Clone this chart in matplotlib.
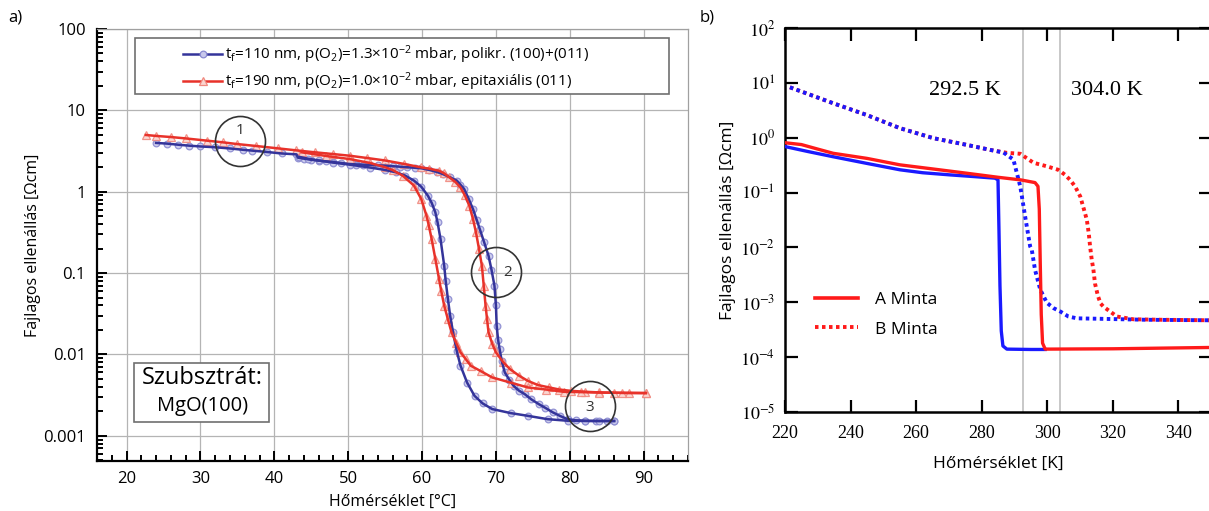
import matplotlib
matplotlib.use("Agg")
import matplotlib.pyplot as plt
from matplotlib.lines import Line2D
from matplotlib.patches import Rectangle
from matplotlib.ticker import FixedLocator, NullFormatter

plt.rcParams['font.family'] = ['Open Sans', 'DejaVu Sans']
plt.rcParams['mathtext.fontset'] = 'custom'
plt.rcParams['mathtext.rm'] = 'Open Sans'
plt.rcParams['mathtext.it'] = 'Open Sans:italic'

# ---------------- panel a) data (T in °C, resistivity in Ohm cm) ----------------
blue_heat_T = [24, 25.5, 27, 28.5, 30, 32, 34, 35.7, 37, 39, 41, 43.0,
               43.2, 44, 45, 46, 47, 48, 49, 50.2, 51, 52, 53, 54, 55, 56, 57, 58, 59, 59.9,
               61, 62, 62.8, 63.8, 64.7, 65.2, 65.7, 66.3, 66.9, 67.4, 67.8, 68.4, 69.0,
               69.4, 69.8, 70.0, 70.1, 70.3, 70.5, 70.8, 71.2, 71.8, 72.4, 73.1, 73.9,
               74.8, 75.8, 76.7, 77.7, 78.7, 79.7, 80.8, 82.1, 83.5, 85, 86]
blue_heat_R = [3.98, 3.90, 3.78, 3.68, 3.60, 3.52, 3.40, 3.28, 3.20, 3.08, 2.95, 2.88,
               2.62, 2.55, 2.47, 2.41, 2.36, 2.31, 2.26, 2.19, 2.17, 2.15, 2.13, 2.11, 2.09,
               2.06, 2.03, 2.00, 1.97, 1.94, 1.85, 1.75, 1.65, 1.50, 1.37, 1.22, 1.08, 0.82,
               0.61, 0.45, 0.35, 0.24, 0.163, 0.11, 0.070, 0.040, 0.0225, 0.015, 0.0116,
               0.0082, 0.0060, 0.0049, 0.0041, 0.0036, 0.00325, 0.0028, 0.00245, 0.0022,
               0.00194, 0.00175, 0.0016, 0.00155, 0.00153, 0.00152, 0.00152, 0.00152]
blue_cool_T = [86, 84, 82, 79.7, 77, 74.3, 72, 69.5, 68.2, 67.1, 66.1, 65.2, 64.7, 64.2,
               63.8, 63.5, 63.2, 63.0, 62.5, 62.1, 61.8, 61.3, 60.8, 59.9, 58.9, 57.7, 56.5,
               55, 53, 51, 50.2, 48, 46, 44.5, 43.4]
blue_cool_R = [0.00152, 0.00152, 0.00152, 0.00153, 0.0016, 0.00176, 0.0019, 0.00213, 0.0025,
               0.0031, 0.0045, 0.0073, 0.011, 0.0186, 0.030, 0.048, 0.080, 0.123, 0.262, 0.42,
               0.557, 0.73, 0.89, 1.15, 1.37, 1.58, 1.73, 1.85, 1.98, 2.10, 2.15, 2.28, 2.42,
               2.55, 2.68]
red_heat_T = [22.6, 24, 26, 28, 30.9, 33, 35, 37.5, 40.5, 43, 45.5, 48, 50.2, 52.5, 55, 57.5,
              59.9, 61, 62.3, 63.0, 63.7, 64.5, 65.2, 65.8, 66.4, 66.9, 67.3, 67.7, 68.1,
              68.35, 68.6, 68.8, 69.0, 69.5, 70.0, 71.0, 71.9, 73.1, 74.3, 75.7, 77.2, 78.6,
              80.1, 82, 84, 86, 88, 90.3]
red_heat_R = [4.98, 4.85, 4.70, 4.52, 4.24, 4.05, 3.85, 3.65, 3.41, 3.22, 3.05, 2.90, 2.77,
              2.60, 2.42, 2.20, 1.99, 1.92, 1.81, 1.68, 1.50, 1.32, 1.13, 0.90, 0.673, 0.46,
              0.316, 0.20, 0.123, 0.070, 0.0397, 0.027, 0.0187, 0.0135, 0.0106, 0.0080,
              0.0066, 0.0055, 0.00474, 0.0042, 0.00393, 0.0037, 0.00357, 0.00348, 0.00341,
              0.00338, 0.00336, 0.00335]
red_cool_T = [90.3, 87, 84, 81.5, 79.2, 76.8, 74.3, 72, 69.5, 68, 66.6, 65.9, 65.2, 64.6,
              64.0, 63.5, 63.0, 62.6, 62.3, 61.8, 61.3, 60.9, 60.6, 59.9, 58.9, 57.4, 56,
              55, 53, 50.2, 47, 43.7]
red_cool_R = [0.00335, 0.00337, 0.0034, 0.00344, 0.00347, 0.0037, 0.00393, 0.0045, 0.00521,
              0.0062, 0.00726, 0.0088, 0.0106, 0.0140, 0.0186, 0.027, 0.0397, 0.060, 0.0844,
              0.149, 0.262, 0.39, 0.507, 0.81, 1.19, 1.57, 1.85, 2.00, 2.25, 2.52, 2.75, 3.05]

circle_T = [35.4, 70.0, 82.7]
circle_R = [4.24, 0.102, 0.0023]
circle_labels = ["1", "2", "3"]
circle_label_T = [35.4, 71.6, 82.7]
circle_label_R = [5.6, 0.102, 0.00224]

legend_a = [r"t$_\mathrm{f}$=110 nm, p(O$_2$)=1.3$\times$10$^{-2}$ mbar, polikr. (100)+(011)",
            r"t$_\mathrm{f}$=190 nm, p(O$_2$)=1.0$\times$10$^{-2}$ mbar, epitaxiális (011)"]
yticks_a = [0.001, 0.01, 0.1, 1, 10, 100]
yticklabels_a = ["0.001", "0.01", "0.1", "1", "10", "100"]
xticks_a = [20, 30, 40, 50, 60, 70, 80, 90]

# ---------------- panel b) data (T in K) ----------------
A_blue_T = [220, 227, 234.7, 245, 255.1, 262, 270.4, 278, 284.1, 285.0, 285.3, 285.6, 286.0,
            286.5, 287.7, 295, 299.4]
A_blue_R = [0.69, 0.56, 0.45, 0.34, 0.26, 0.23, 0.21, 0.195, 0.183, 0.17, 0.02, 0.002, 0.0003,
            0.00016, 0.00014, 0.000138, 0.000138]
A_red_T = [220, 225, 230, 234.7, 245, 255.1, 265, 275.5, 285, 292, 296.3, 297.2, 297.6, 297.9,
           298.2, 298.6, 299.4, 320, 349.5]
A_red_R = [0.81, 0.75, 0.62, 0.52, 0.42, 0.32, 0.27, 0.225, 0.19, 0.17, 0.152, 0.13, 0.05,
           0.005, 0.0006, 0.00018, 0.00014, 0.000142, 0.00015]
B_blue_T = [221.5, 234.7, 244.9, 255.1, 265.3, 275.5, 282.6, 286.7, 289.7, 291.8, 293.3,
            294.8, 295.3, 296.3, 297.9, 299.9, 302, 304.0, 306.5, 309.1, 316.2, 330, 349.5]
B_blue_R = [8.3, 4.25, 2.60, 1.49, 0.98, 0.74, 0.60, 0.536, 0.40, 0.129, 0.036, 0.0105,
            0.0091, 0.0039, 0.0017, 0.00098, 0.00078, 0.00068, 0.00055, 0.00051, 0.0005,
            0.00048, 0.00047]
B_red_T = [221.5, 234.7, 244.9, 255.1, 265.3, 275.5, 282.6, 287.7, 291.8, 295.8, 300, 303.4,
           305.5, 307, 308.5, 310.1, 311.2, 312.1, 312.7, 313.1, 313.6, 314.1, 314.6, 315.5,
           316.3, 317.2, 321.3, 326.3, 335, 349.5]
B_red_R = [8.3, 4.25, 2.60, 1.49, 0.98, 0.74, 0.60, 0.53, 0.51, 0.35, 0.30, 0.26, 0.21, 0.17,
           0.13, 0.085, 0.05, 0.032, 0.018, 0.0105, 0.006, 0.004, 0.0022, 0.0013, 0.00095,
           0.00083, 0.00055, 0.00049, 0.00048, 0.00047]
vlines_b = [292.5, 304.0]
vline_labels = ["292.5 K", "304.0 K"]
vline_label_T = [275, 318.3]
vline_label_R = [7.2, 7.2]
legend_b = ["A Minta", "B Minta"]
xticks_b = [220, 240, 260, 280, 300, 320, 340]
yticks_b = [1e-5, 1e-4, 1e-3, 1e-2, 1e-1, 1, 10, 100]
yticklabels_b = [r"$10^{-5}$", r"$10^{-4}$", r"$10^{-3}$", r"$10^{-2}$", r"$10^{-1}$",
                 r"$10^{0}$", r"$10^{1}$", r"$10^{2}$"]

# ---------------- figure ----------------
fig = plt.figure(figsize=(12.09, 5.11), dpi=100)
W, H = 1209, 511

BLUE_L = '#34349a'
BLUE_M = '#8a8ad0'
RED_L = '#e8322a'
RED_M = '#f08a80'

# ----- panel a -----
axa = fig.add_axes([97 / W, 1 - 461 / H, (688 - 97) / W, (461 - 29) / H])
axa.set_yscale('log')
axa.set_xlim(16, 96)
axa.set_ylim(10 ** -3.31, 100)

for T, R in [(blue_heat_T, blue_heat_R), (blue_cool_T, blue_cool_R)]:
    axa.plot(T, R, ls='none', marker='o', ms=4.8, mfc='#c8c8ec', mec=BLUE_M, mew=0.9, alpha=0.9, zorder=3)
for T, R in [(red_heat_T, red_heat_R), (red_cool_T, red_cool_R)]:
    axa.plot(T, R, ls='none', marker='^', ms=5.2, mfc='#fbd5d0', mec=RED_M, mew=0.9, alpha=0.9, zorder=3)
for T, R in [(blue_heat_T, blue_heat_R), (blue_cool_T, blue_cool_R)]:
    axa.plot(T, R, color=BLUE_L, lw=1.8, zorder=4)
for T, R in [(red_heat_T, red_heat_R), (red_cool_T, red_cool_R)]:
    axa.plot(T, R, color=RED_L, lw=1.8, zorder=4)

axa.plot(circle_T, circle_R, ls='none', marker='o', ms=36, mfc='none', mec='#333333', mew=1.2, zorder=5)
for t, r, s in zip(circle_label_T, circle_label_R, circle_labels):
    axa.text(t, r, s, ha='center', va='center', fontsize=11, color='#333333', zorder=6)

axa.yaxis.set_major_locator(FixedLocator(yticks_a))
axa.set_yticklabels(yticklabels_a)
minor_a = [m * 10.0 ** e for e in range(-4, 2) for m in range(2, 10)]
axa.yaxis.set_minor_locator(FixedLocator(minor_a))
axa.yaxis.set_minor_formatter(NullFormatter())
axa.set_xticks(xticks_a)
axa.xaxis.set_minor_locator(FixedLocator([x for x in range(16, 97, 2)]))
axa.grid(True, which='major', color='#b4b4b4', lw=0.9)
axa.set_axisbelow(True)
axa.tick_params(which='both', direction='in', top=False, right=False, labelsize=12, width=1.4)
axa.tick_params(which='major', length=7)
axa.tick_params(which='minor', length=4)
axa.tick_params(axis='y', pad=8)
axa.tick_params(axis='x', pad=7)
for s in ['left', 'bottom']:
    axa.spines[s].set_linewidth(1.6)
    axa.spines[s].set_color('black')
for s in ['top', 'right']:
    axa.spines[s].set_linewidth(0.9)
    axa.spines[s].set_color('#a0a0a0')

axa.set_xlabel("Hőmérséklet [°C]", fontsize=11.5)
axa.set_ylabel("Fajlagos ellenállás [Ωcm]", fontsize=11.5)
axa.xaxis.set_label_coords(0.5, -0.075)
axa.yaxis.set_label_coords(-0.095, 0.5)

# legend box
axa.add_patch(Rectangle((0.064, 0.850), 0.968 - 0.064, 0.979 - 0.850, transform=axa.transAxes,
                        facecolor='white', edgecolor='#707070', lw=1.2, zorder=7))
hb = Line2D([], [], color=BLUE_L, lw=1.8, marker='o', ms=4.8, mfc='#c8c8ec', mec=BLUE_M, mew=0.9)
hr = Line2D([], [], color=RED_L, lw=1.8, marker='^', ms=5.2, mfc='#fbd5d0', mec=RED_M, mew=0.9)
leg = axa.legend([hb, hr], legend_a, loc='center left', bbox_to_anchor=(0.145, 0.9085),
                 frameon=False, fontsize=11, handlelength=2.6, handletextpad=0.15,
                 labelspacing=0.3, borderpad=0, borderaxespad=0, numpoints=1)
leg.set_zorder(8)

# substrate box
axa.add_patch(Rectangle((0.0626, 0.090), 0.291 - 0.0626, 0.227 - 0.090, transform=axa.transAxes,
                        facecolor='white', edgecolor='#707070', lw=1.2, zorder=7))
axa.text(0.1785, 0.192, "Szubsztrát:", transform=axa.transAxes, ha='center', va='center',
         fontsize=17, zorder=8)
axa.text(0.1785, 0.127, "MgO(100)", transform=axa.transAxes, ha='center', va='center',
         fontsize=14.5, zorder=8)

# ----- panel b -----
axb = fig.add_axes([785 / W, 1 - 412 / H, (1211 - 785) / W, (412 - 28) / H])
axb.set_yscale('log')
axb.set_xlim(220, 350)
axb.set_ylim(1e-5, 100)
for v in vlines_b:
    axb.axvline(v, color='#c4c4c4', lw=1.3, zorder=1)
dot = (0, (0.9, 0.9))
axb.plot(B_red_T, B_red_R, color='#ff1a1a', lw=2.8, ls=dot, zorder=3)
axb.plot(B_blue_T, B_blue_R, color='#1a1aff', lw=2.8, ls=dot, zorder=3)
axb.plot(A_blue_T, A_blue_R, color='#1a1aff', lw=2.4, zorder=4)
axb.plot(A_red_T, A_red_R, color='#ff1a1a', lw=2.4, zorder=4)
for t, r, s in zip(vline_label_T, vline_label_R, vline_labels):
    axb.text(t, r, s, ha='center', va='center', fontsize=16, family='Liberation Serif')

axb.set_xticks(xticks_b)
axb.set_xticklabels([str(x) for x in xticks_b], family='Liberation Serif', fontsize=13)
axb.set_yticks(yticks_b, labels=yticklabels_b, math_fontfamily='stix', fontsize=13)
axb.yaxis.set_minor_locator(FixedLocator([]))
axb.tick_params(which='major', direction='in', top=True, right=True, length=9, width=1.6)
axb.tick_params(axis='x', pad=9)
axb.tick_params(axis='y', pad=7)
for s in axb.spines.values():
    s.set_linewidth(1.8)

axb.set_xlabel("Hőmérséklet [K]", fontsize=12.5)
axb.set_ylabel("Fajlagos ellenállás [Ωcm]", fontsize=12.5)
axb.xaxis.set_label_coords(0.5, -0.115)
axb.yaxis.set_label_coords(-0.115, 0.5)

hA = Line2D([], [], color='#ff1a1a', lw=2.6)
hB = Line2D([], [], color='#ff1a1a', lw=2.8, ls=dot)
axb.legend([hA, hB], legend_b, loc='upper left', bbox_to_anchor=(0.07, 0.312), frameon=False,
           fontsize=12.5, handlelength=2.5, handletextpad=0.95, labelspacing=0.75,
           borderpad=0, borderaxespad=0)

fig.text(15 / W, 1 - 18 / H, "a)", fontsize=12, ha='center', va='center')
fig.text(707 / W, 1 - 18 / H, "b)", fontsize=12, ha='center', va='center')

fig.savefig("out.png", dpi=100)
